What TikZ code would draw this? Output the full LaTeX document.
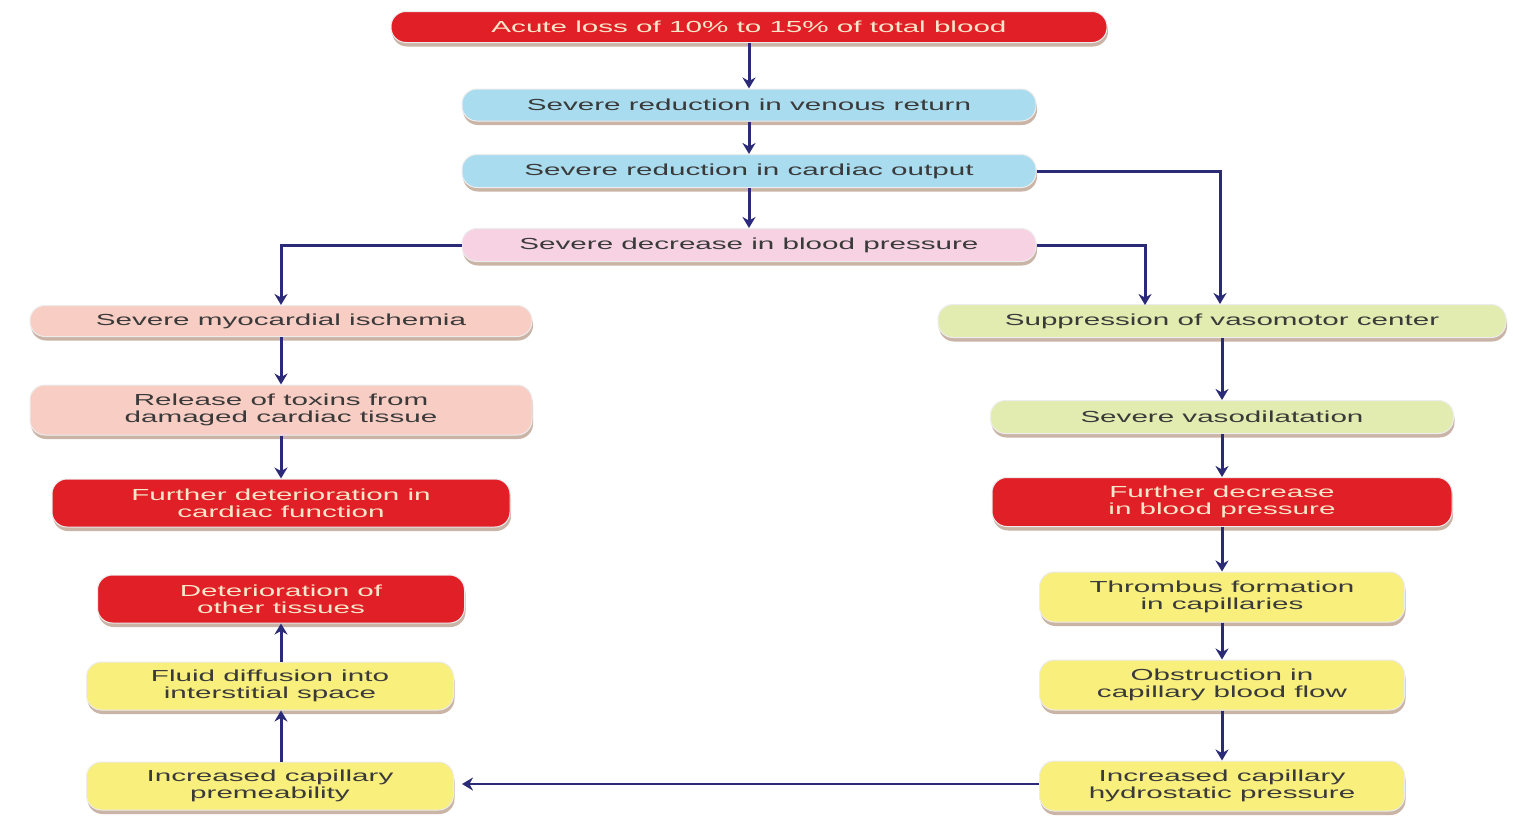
\documentclass[tikz,border=0pt]{standalone}
\usepackage{fontspec}
\setmainfont[FakeStretch=1.85]{Liberation Sans}
\usetikzlibrary{shadows,arrows.meta}
\definecolor{navy}{HTML}{2B2A78}
\definecolor{redbox}{HTML}{E11F27}
\definecolor{bluebox}{HTML}{A9DCEF}
\definecolor{pinkbox}{HTML}{F6D2E3}
\definecolor{salmonbox}{HTML}{F8CDC4}
\definecolor{greenbox}{HTML}{E3ECB0}
\definecolor{yellowbox}{HTML}{F8EF7C}
\definecolor{darktext}{HTML}{3A3A3A}
\definecolor{creamtext}{HTML}{F7E6C9}
\definecolor{shadowcol}{HTML}{8A5A3A}
\begin{document}
\begin{tikzpicture}[x=1pt,y=-1pt,
  boxbase/.style={rectangle, rounded corners=15pt, inner sep=0pt, align=center,
    draw=white!85!gray, line width=1pt,
    font=\fontsize{16}{17}\selectfont,
    drop shadow={shadow xshift=1pt, shadow yshift=-4pt, fill=shadowcol, opacity=0.45}},
  redb/.style={boxbase, fill=redbox, text=creamtext},
  blueb/.style={boxbase, fill=bluebox, text=darktext},
  pinkb/.style={boxbase, fill=pinkbox, text=darktext},
  salmonb/.style={boxbase, fill=salmonbox, text=darktext},
  greenb/.style={boxbase, fill=greenbox, text=darktext},
  yellowb/.style={boxbase, fill=yellowbox, text=darktext},
  arr/.style={draw=navy, line width=3pt, -{Stealth[length=11pt,width=13pt]}}
]
\useasboundingbox[fill=white] (0,0) rectangle (1513,828);

\node[redb, minimum width=716pt, minimum height=31pt] (acute) at (749,27) {Acute loss of 10\% to 15\% of total blood};
\node[blueb, minimum width=574pt, minimum height=32pt] (venous) at (749,105) {Severe reduction in venous return};
\node[blueb, minimum width=574pt, minimum height=33pt] (cardiac) at (749,171) {Severe reduction in cardiac output};
\node[pinkb, minimum width=574pt, minimum height=33pt] (bp) at (749,245) {Severe decrease in blood pressure};

\node[salmonb, minimum width=502pt, minimum height=31pt] (isch) at (281,321) {Severe myocardial ischemia};
\node[salmonb, minimum width=502pt, minimum height=50pt] (toxins) at (281,410) {Release of toxins from\\damaged cardiac tissue};
\node[redb, minimum width=458pt, minimum height=48pt] (furtherdet) at (281,503) {Further deterioration in\\cardiac function};
\node[redb, minimum width=367pt, minimum height=48pt] (other) at (281,599) {Deterioration of\\other tissues};
\node[yellowb, minimum width=367pt, minimum height=48pt] (fluid) at (270,686) {Fluid diffusion into\\interstitial space};
\node[yellowb, minimum width=367pt, minimum height=48pt] (perm) at (270,786) {Increased capillary\\premeability};

\node[greenb, minimum width=568pt, minimum height=33pt] (vaso) at (1222,321) {Suppression of vasomotor center};
\node[greenb, minimum width=463pt, minimum height=33pt] (vasodil) at (1222,417) {Severe vasodilatation};
\node[redb, minimum width=460pt, minimum height=49pt] (furtherbp) at (1222,502) {Further decrease\\in blood pressure};
\node[yellowb, minimum width=365pt, minimum height=50pt] (thromb) at (1222,597) {Thrombus formation\\in capillaries};
\node[yellowb, minimum width=365pt, minimum height=50pt] (obst) at (1222,685) {Obstruction in\\capillary blood flow};
\node[yellowb, minimum width=365pt, minimum height=50pt] (hydro) at (1222,786) {Increased capillary\\hydrostatic pressure};

\coordinate (bpdrop) at (1145,305);

\draw[arr] (acute) -- (venous);
\draw[arr] (venous) -- (cardiac);
\draw[arr] (cardiac) -- (bp);
\draw[arr] (bp.west) -| (isch.north);
\draw[arr] (bp.east) -| (bpdrop);
\draw[arr] (cardiac.east) -| ([xshift=-2pt]vaso.north);
\draw[arr] (isch) -- (toxins);
\draw[arr] (toxins) -- (furtherdet);
\draw[arr] (vaso) -- (vasodil);
\draw[arr] (vasodil) -- (furtherbp);
\draw[arr] (furtherbp) -- (thromb);
\draw[arr] (thromb) -- (obst);
\draw[arr] (obst) -- (hydro);
\draw[arr, line width=2.4pt, shorten >=8pt] ([yshift=2pt]hydro.west) -- ([yshift=2pt]perm.east);
\draw[arr] (perm.north -| other.south) -- (fluid.south -| other.south);
\draw[arr] (fluid.north -| other.south) -- (other.south);
\end{tikzpicture}
\end{document}
